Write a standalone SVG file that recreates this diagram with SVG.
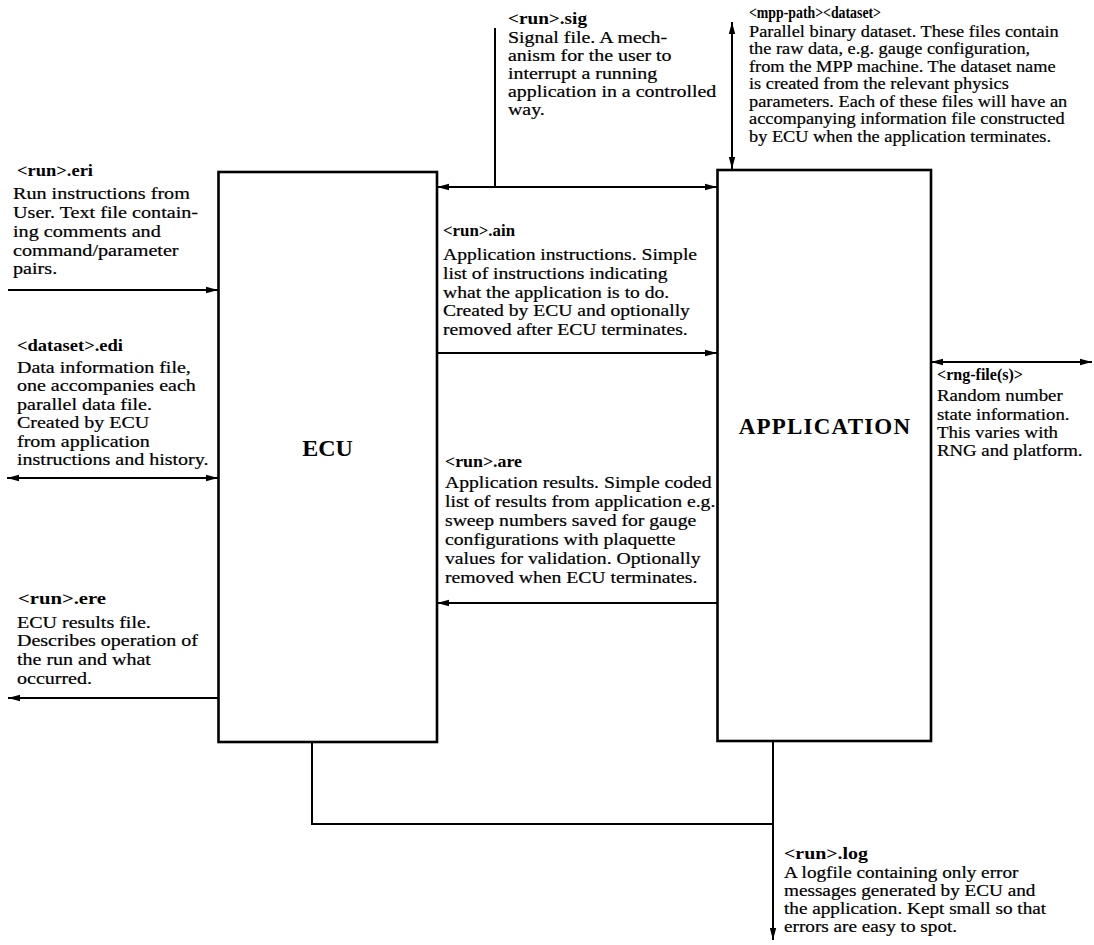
<svg xmlns="http://www.w3.org/2000/svg" width="1094" height="945" viewBox="0 0 1094 945">
<style>
.b{font-family:"Liberation Serif",serif;font-size:16px;fill:#000;stroke:#000;stroke-width:0.2}
.h{font-family:"Liberation Serif",serif;font-size:16px;font-weight:bold;fill:#000}
.box{fill:#fff;stroke:#000;stroke-width:2.6}
.t{font-family:"Liberation Serif",serif;font-weight:bold;fill:#000;text-anchor:middle}
.c{fill:none;stroke:#000;stroke-width:2}
</style>
<defs>
<marker id="ah" markerUnits="userSpaceOnUse" markerWidth="12" markerHeight="8" refX="12" refY="4" orient="auto-start-reverse"><path d="M0,0.8 L12,4 L0,7.2 z" fill="#000"/></marker>
</defs>
<rect x="0" y="0" width="1094" height="945" fill="#fff"/>
<g id="ecu"><rect class="box" x="218.5" y="172" width="218.5" height="570"/><text class="t" x="327.5" y="456" font-size="24">ECU</text></g>
<g id="application"><rect class="box" x="717.5" y="170" width="213.5" height="571"/><text class="t" x="825" y="434" font-size="23" letter-spacing="1.2">APPLICATION</text></g>
<g id="connectors">
<line class="c" x1="8" y1="290" x2="218" y2="290" marker-end="url(#ah)"/>
<line class="c" x1="7" y1="478" x2="218" y2="478" marker-start="url(#ah)" marker-end="url(#ah)"/>
<line class="c" x1="218" y1="698" x2="8" y2="698" marker-end="url(#ah)"/>
<line class="c" x1="495" y1="28" x2="495" y2="187"/>
<line class="c" x1="437" y1="187" x2="717" y2="187" marker-start="url(#ah)" marker-end="url(#ah)"/>
<line class="c" x1="732" y1="22" x2="732" y2="169" marker-start="url(#ah)" marker-end="url(#ah)"/>
<line class="c" x1="437" y1="353" x2="717" y2="353" marker-end="url(#ah)"/>
<line class="c" x1="717" y1="603" x2="437" y2="603" marker-end="url(#ah)"/>
<line class="c" x1="931" y1="362" x2="1092" y2="362" marker-start="url(#ah)" marker-end="url(#ah)"/>
<polyline class="c" points="312,742 312,824 773,824"/>
<line class="c" x1="773" y1="741" x2="773" y2="940" marker-end="url(#ah)"/>
</g>
<g id="label-sig">
<text class="h" x="508" y="24" textLength="79" lengthAdjust="spacingAndGlyphs">&lt;run&gt;.sig</text>
<text class="b" transform="translate(508,0) scale(1.245,1)"><tspan x="0" y="43">Signal file. A mech-</tspan><tspan x="0" y="61">anism for the user to</tspan><tspan x="0" y="79">interrupt a running</tspan><tspan x="0" y="97">application in a controlled</tspan><tspan x="0" y="115">way.</tspan></text>
</g>
<g id="label-mpp">
<text class="h" x="749" y="18" textLength="132" lengthAdjust="spacingAndGlyphs">&lt;mpp-path&gt;&lt;dataset&gt;</text>
<text class="b" transform="translate(749,0) scale(1.145,1)"><tspan x="0" y="37">Parallel binary dataset. These files contain</tspan><tspan x="0" y="54.5">the raw data, e.g. gauge configuration,</tspan><tspan x="0" y="72">from the MPP machine. The dataset name</tspan><tspan x="0" y="89.5">is created from the relevant physics</tspan><tspan x="0" y="107">parameters. Each of these files will have an</tspan><tspan x="0" y="124.5">accompanying information file constructed</tspan><tspan x="0" y="142">by ECU when the application terminates.</tspan></text>
</g>
<g id="label-eri">
<text class="h" x="17" y="176" textLength="76" lengthAdjust="spacingAndGlyphs">&lt;run&gt;.eri</text>
<text class="b" transform="translate(13,0) scale(1.26,1)"><tspan x="0" y="199">Run instructions from</tspan><tspan x="0" y="218">User. Text file contain-</tspan><tspan x="0" y="237">ing comments and</tspan><tspan x="0" y="256">command/parameter</tspan><tspan x="0" y="274">pairs.</tspan></text>
</g>
<g id="label-edi">
<text class="h" x="17" y="351" textLength="106" lengthAdjust="spacingAndGlyphs">&lt;dataset&gt;.edi</text>
<text class="b" transform="translate(17,0) scale(1.25,1)"><tspan x="0" y="373">Data information file,</tspan><tspan x="0" y="391.5">one accompanies each</tspan><tspan x="0" y="410">parallel data file.</tspan><tspan x="0" y="428.5">Created by ECU</tspan><tspan x="0" y="447">from application</tspan><tspan x="0" y="465.5">instructions and history.</tspan></text>
</g>
<g id="label-ere">
<text class="h" x="18" y="604" textLength="88" lengthAdjust="spacingAndGlyphs">&lt;run&gt;.ere</text>
<text class="b" transform="translate(17,0) scale(1.25,1)"><tspan x="0" y="628">ECU results file.</tspan><tspan x="0" y="646">Describes operation of</tspan><tspan x="0" y="665.5">the run and what</tspan><tspan x="0" y="684.5">occurred.</tspan></text>
</g>
<g id="label-ain">
<text class="h" x="443" y="236" textLength="72" lengthAdjust="spacingAndGlyphs">&lt;run&gt;.ain</text>
<text class="b" transform="translate(443,0) scale(1.225,1)"><tspan x="0" y="260">Application instructions. Simple</tspan><tspan x="0" y="279">list of instructions indicating</tspan><tspan x="0" y="298">what the application is to do.</tspan><tspan x="0" y="316">Created by ECU and optionally</tspan><tspan x="0" y="335">removed after ECU terminates.</tspan></text>
</g>
<g id="label-are">
<text class="h" x="445" y="467" textLength="77" lengthAdjust="spacingAndGlyphs">&lt;run&gt;.are</text>
<text class="b" transform="translate(445,0) scale(1.23,1)"><tspan x="0" y="488">Application results. Simple coded</tspan><tspan x="0" y="507">list of results from application e.g.</tspan><tspan x="0" y="526">sweep numbers saved for gauge</tspan><tspan x="0" y="545">configurations with plaquette</tspan><tspan x="0" y="564">values for validation. Optionally</tspan><tspan x="0" y="583">removed when ECU terminates.</tspan></text>
</g>
<g id="label-rng">
<text class="h" x="937" y="380" textLength="86" lengthAdjust="spacingAndGlyphs">&lt;rng-file(s)&gt;</text>
<text class="b" transform="translate(937,0) scale(1.175,1)"><tspan x="0" y="401">Random number</tspan><tspan x="0" y="420">state information.</tspan><tspan x="0" y="438">This varies with</tspan><tspan x="0" y="456">RNG and platform.</tspan></text>
</g>
<g id="label-log">
<text class="h" x="784" y="859" textLength="84" lengthAdjust="spacingAndGlyphs">&lt;run&gt;.log</text>
<text class="b" transform="translate(784,0) scale(1.2,1)"><tspan x="0" y="878">A logfile containing only error</tspan><tspan x="0" y="896">messages generated by ECU and</tspan><tspan x="0" y="914">the application. Kept small so that</tspan><tspan x="0" y="932">errors are easy to spot.</tspan></text>
</g>
</svg>
